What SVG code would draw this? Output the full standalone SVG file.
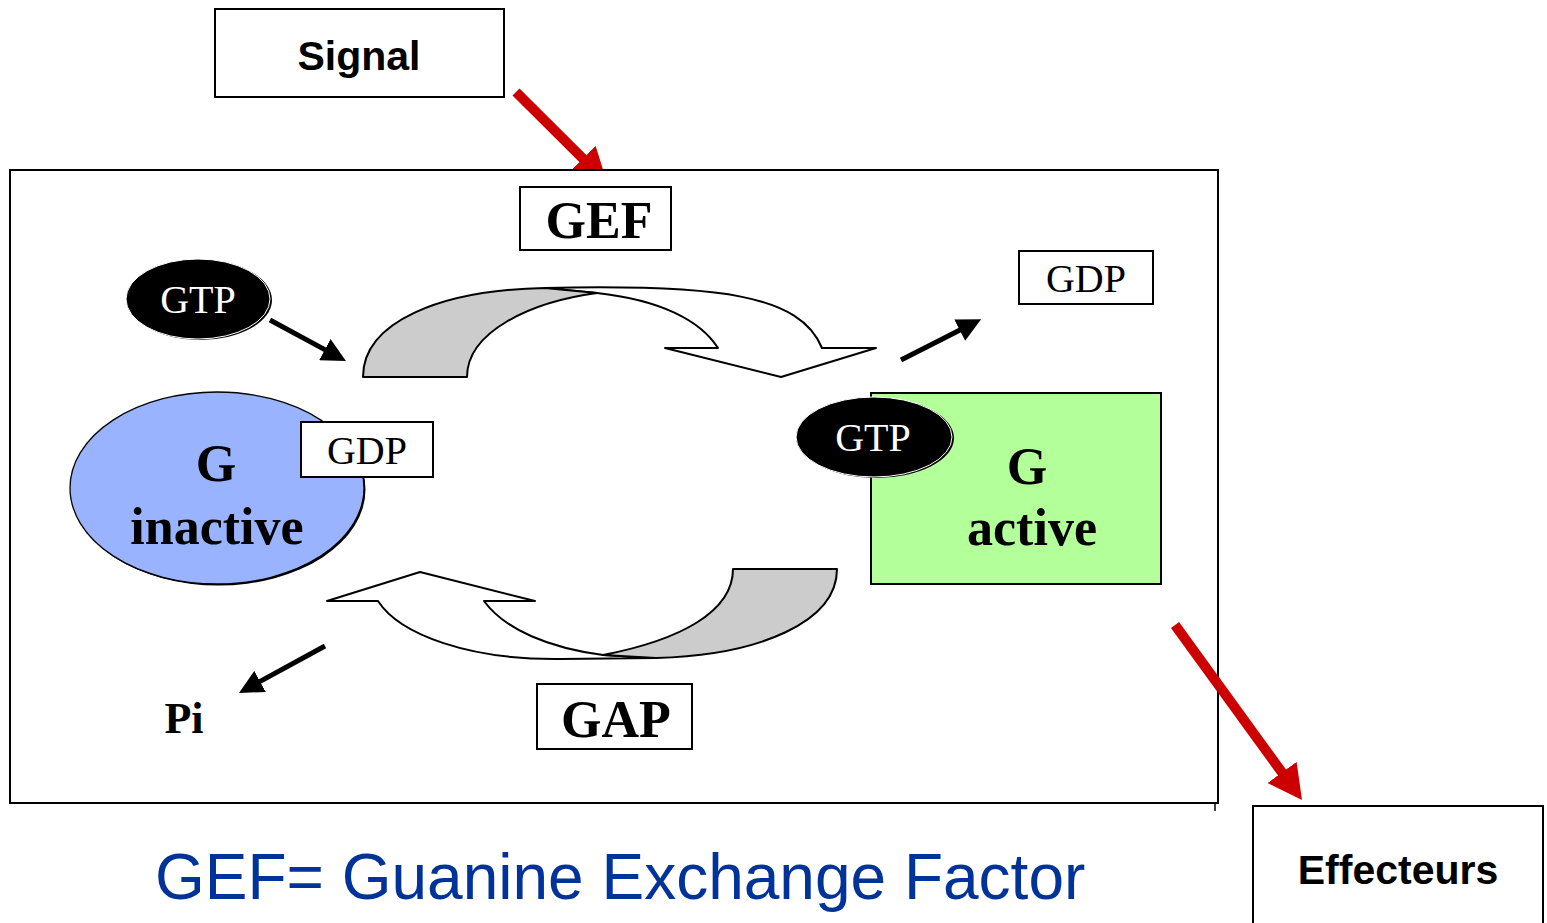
<svg xmlns="http://www.w3.org/2000/svg" width="1547" height="923" viewBox="0 0 1547 923">
  <defs>
    <style>
      .box { fill: #ffffff; stroke: #000000; stroke-width: 2; }
      .sans { font-family: "Liberation Sans", Arial, sans-serif; }
      .serif { font-family: "Liberation Serif", "Times New Roman", serif; }
      .bold { font-weight: bold; }
      .mid { text-anchor: middle; }
      .ribbon { stroke: #000000; stroke-width: 2; stroke-linejoin: round; }
      .black-arrow { stroke: #000000; stroke-width: 5; fill: none; marker-end: url(#head-black); }
      .red-arrow { stroke: #cc0000; stroke-width: 10; fill: none; marker-end: url(#head-red); }
    </style>
    <marker id="head-black" viewBox="0 0 24 24" refX="2" refY="12" markerWidth="24" markerHeight="24" markerUnits="userSpaceOnUse" orient="auto">
      <path d="M0,0 L24,12 L0,24 Z" fill="#000000"/>
    </marker>
    <marker id="head-red" viewBox="0 0 34 36" refX="2" refY="18" markerWidth="34" markerHeight="36" markerUnits="userSpaceOnUse" orient="auto">
      <path d="M0,0 L34,18 L0,36 Z" fill="#cc0000"/>
    </marker>
  </defs>

  <rect width="1547" height="923" fill="#ffffff"/>

  <!-- incoming signal arrow, drawn under the frame so its tip tucks behind it -->
  <g id="signal-arrow">
    <line class="red-arrow" x1="516" y1="92" x2="584.3" y2="160"/>
  </g>

  <!-- main frame -->
  <g id="frame">
    <rect class="box" x="10" y="170" width="1208" height="633"/>
    <line x1="1215" y1="803" x2="1215" y2="811" stroke="#000000" stroke-width="1.5"/>
  </g>

  <g id="signal">
    <rect class="box" x="215" y="9" width="289" height="88"/>
    <text class="sans bold mid" x="359" y="70" font-size="41">Signal</text>
  </g>

  <g id="effecteurs">
    <rect class="box" x="1253" y="806" width="290" height="130"/>
    <text class="sans bold mid" x="1398" y="884" font-size="41">Effecteurs</text>
  </g>

  <!-- GEF cycle arrow (top) -->
  <g id="gef-ribbon">
    <path class="ribbon" fill="#ffffff" d="M545,288 C720,284 800,295 822,348 L876,348 L781,377 L665,348 L718,348 C700,320 660,300 597,293 Z"/>
    <path class="ribbon" fill="#cccccc" d="M363,377 C363,322 440,290 545,288 L597,293 C530,302 467,332 467,377 Z"/>
  </g>

  <!-- GAP cycle arrow (bottom) -->
  <g id="gap-ribbon">
    <path class="ribbon" fill="#ffffff" d="M656,658 L560,659 C470,660 400,635 378,601 L327,601 L420,572 L535,601 L484,601 C505,630 550,648 603,655 Z"/>
    <path class="ribbon" fill="#cccccc" d="M733,569 L837,569 C837,622 760,655 656,658 L603,655 C680,640 733,612 733,569 Z"/>
  </g>

  <g id="gef">
    <rect class="box" x="520" y="187" width="151" height="63"/>
    <text class="serif bold mid" x="599" y="238" font-size="52">GEF</text>
  </g>

  <g id="gap">
    <rect class="box" x="537" y="684" width="155" height="65"/>
    <text class="serif bold mid" x="616" y="737" font-size="52">GAP</text>
  </g>

  <g id="gtp-free">
    <ellipse cx="200" cy="300" rx="72" ry="40" fill="#000000"/>
    <ellipse cx="198" cy="299" rx="72" ry="40" fill="#000000" stroke="#ffffff" stroke-width="1"/>
    <text class="serif mid" x="198" y="313" font-size="40" fill="#ffffff">GTP</text>
  </g>

  <g id="gdp-released">
    <rect class="box" x="1019" y="251" width="134" height="53"/>
    <text class="serif mid" x="1086" y="292" font-size="40">GDP</text>
  </g>

  <g id="g-inactive">
    <ellipse cx="218.5" cy="489.5" rx="147" ry="96" fill="#000000"/>
    <ellipse cx="217" cy="488" rx="147" ry="96" fill="#99b3ff" stroke="#000000" stroke-width="1.3"/>
    <text class="serif bold mid" x="216" y="481" font-size="52">G</text>
    <text class="serif bold mid" x="217" y="544" font-size="52">inactive</text>
  </g>

  <g id="gdp-bound">
    <rect class="box" x="301" y="422" width="132" height="55"/>
    <text class="serif mid" x="367" y="464" font-size="40">GDP</text>
  </g>

  <g id="g-active">
    <rect x="871" y="393" width="290" height="191" fill="#b3ff99" stroke="#000000" stroke-width="2"/>
    <text class="serif bold mid" x="1027" y="484" font-size="52">G</text>
    <text class="serif bold mid" x="1032" y="545" font-size="52">active</text>
  </g>

  <g id="gtp-bound">
    <ellipse cx="876" cy="438" rx="78" ry="40" fill="#000000"/>
    <ellipse cx="874" cy="437" rx="78" ry="40" fill="#000000" stroke="#ffffff" stroke-width="1"/>
    <text class="serif mid" x="873" y="451" font-size="40" fill="#ffffff">GTP</text>
  </g>

  <g id="pi">
    <text class="serif bold mid" x="184" y="733" font-size="44">Pi</text>
  </g>

  <g id="connectors">
    <line class="black-arrow" x1="270" y1="320" x2="326.6" y2="350.6"/>
    <line class="black-arrow" x1="901" y1="360" x2="961.5" y2="329.2"/>
    <line class="black-arrow" x1="325" y1="646" x2="258.3" y2="682.4"/>
    <line class="red-arrow" x1="1175" y1="625" x2="1283.2" y2="774.1"/>
  </g>

  <g id="caption">
    <text class="sans" x="155" y="899" font-size="64" fill="#003399">GEF= Guanine Exchange Factor</text>
  </g>
</svg>
